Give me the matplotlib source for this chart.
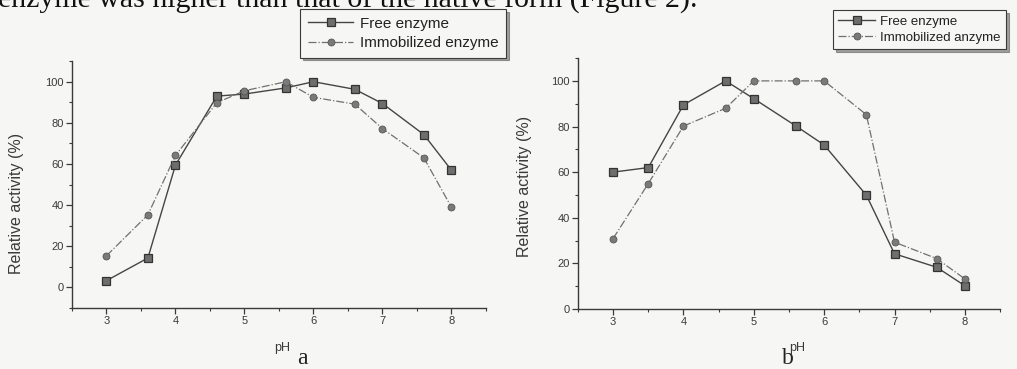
import numpy as np
import matplotlib
matplotlib.use('Agg')
import matplotlib.pyplot as plt
from matplotlib.ticker import MultipleLocator

# panel a: pH optimum
ph_a = [3, 3.6, 4, 4.6, 5, 5.6, 6, 6.6, 7, 7.6, 8]
free_a = [3.3, 14.3, 59.5, 93, 94, 97, 100, 96.3, 89.4, 74.3, 57]
immob_a = [15.4, 35.3, 64.2, 89.8, 95.6, 100, 92.4, 89.1, 77.2, 63, 39]

# panel b: pH stability
ph_b = [3, 3.5, 4, 4.6, 5, 5.6, 6, 6.6, 7, 7.6, 8]
free_b = [60, 62, 89.5, 100, 92.2, 80.2, 71.9, 49.9, 24.2, 18.3, 10.2]
immob_b = [30.9, 55, 80.2, 88, 100, 100, 100, 85.2, 29.3, 22.1, 13.2]

labels_a = ['Free enzyme', 'Immobilized enzyme']
labels_b = ['Free enzyme', 'Immobilized anzyme']

plt.rcParams['font.family'] = ['Liberation Sans', 'DejaVu Sans']

bg = '#f6f6f4'
ink = '#3a3a3a'

fig = plt.figure(figsize=(10.17, 3.69), dpi=100, facecolor=bg)

ax_a = fig.add_axes([0.0708, 0.1653, 0.407, 0.669])
ax_b = fig.add_axes([0.5683, 0.1626, 0.415, 0.680])


def style(ax, ylim, ylab_xy, xlab_xy):
    ax.set_facecolor(bg)
    ax.set_xlim(2.5, 8.5)
    ax.set_ylim(*ylim)
    for s in ['top', 'right']:
        ax.spines[s].set_visible(False)
    for s in ['left', 'bottom']:
        ax.spines[s].set_color(ink)
        ax.spines[s].set_linewidth(1.0)
    ax.xaxis.set_major_locator(MultipleLocator(1))
    ax.xaxis.set_minor_locator(MultipleLocator(0.5))
    ax.yaxis.set_major_locator(MultipleLocator(20))
    ax.yaxis.set_minor_locator(MultipleLocator(10))
    ax.tick_params(which='major', direction='out', length=4, width=0.9,
                   color=ink, labelsize=8, labelcolor=ink, pad=2)
    ax.tick_params(which='minor', direction='out', length=2.5, width=0.8, color=ink)
    ax.set_xticks([3, 4, 5, 6, 7, 8])
    ax.set_yticks([0, 20, 40, 60, 80, 100])
    ax.set_ylabel('Relative activity (%)', fontsize=11.5, color=ink)
    ax.yaxis.set_label_coords(*ylab_xy)
    ax.set_xlabel('pH', fontsize=9, color=ink)
    ax.xaxis.set_label_coords(*xlab_xy)


def draw(ax, x, free, immob, labels):
    h1, = ax.plot(x, free, '-', color='#454545', lw=1.0, marker='s', ms=5.5,
                  mfc='#6e6e6e', mec='#333333', mew=0.9, label=labels[0])
    h2, = ax.plot(x, immob, '-.', color='#707070', lw=0.9, marker='o', ms=5,
                  mfc='#7a7a7a', mec='#555555', mew=0.6, label=labels[1])
    return [h1, h2]


style(ax_a, (-10, 110), (-0.116, 0.425), (0.507, -0.138))
style(ax_b, (0, 110), (-0.109, 0.49), (0.519, -0.131))
ha = draw(ax_a, ph_a, free_a, immob_a, labels_a)
hb = draw(ax_b, ph_b, free_b, immob_b, labels_b)

leg_kw = dict(frameon=True, fancybox=False, shadow=True, edgecolor=ink,
              facecolor=bg, handletextpad=0.4, borderaxespad=0, loc='upper left')
la = fig.legend(handles=ha, bbox_to_anchor=(300 / 1017, 1 - 9 / 369),
                fontsize=11, handlelength=3.0, borderpad=0.5, labelspacing=0.35,
                **leg_kw)
lb = fig.legend(handles=hb, bbox_to_anchor=(833 / 1017, 1 - 10 / 369),
                fontsize=9.5, handlelength=2.8, borderpad=0.4, labelspacing=0.3,
                **leg_kw)
for leg in (la, lb):
    leg.get_frame().set_linewidth(0.8)
    for t in leg.get_texts():
        t.set_color('#222222')

# panel letters and the cut-off line of body text from the scan
fig.text(297 / 1017, 0, 'a', fontsize=17, family='Liberation Serif',
         color='#222222', va='bottom')
fig.text(782 / 1017, 0, 'b', fontsize=17, family='Liberation Serif',
         color='#222222', va='bottom')
fig.text(-0.002, 1 - 8 / 369, 'enzyme was higher than that of the native form (Figure 2).',
         fontsize=21.5, family='Liberation Serif', color='#111111', va='baseline')

fig.savefig('out.png', dpi=100, facecolor=bg)
